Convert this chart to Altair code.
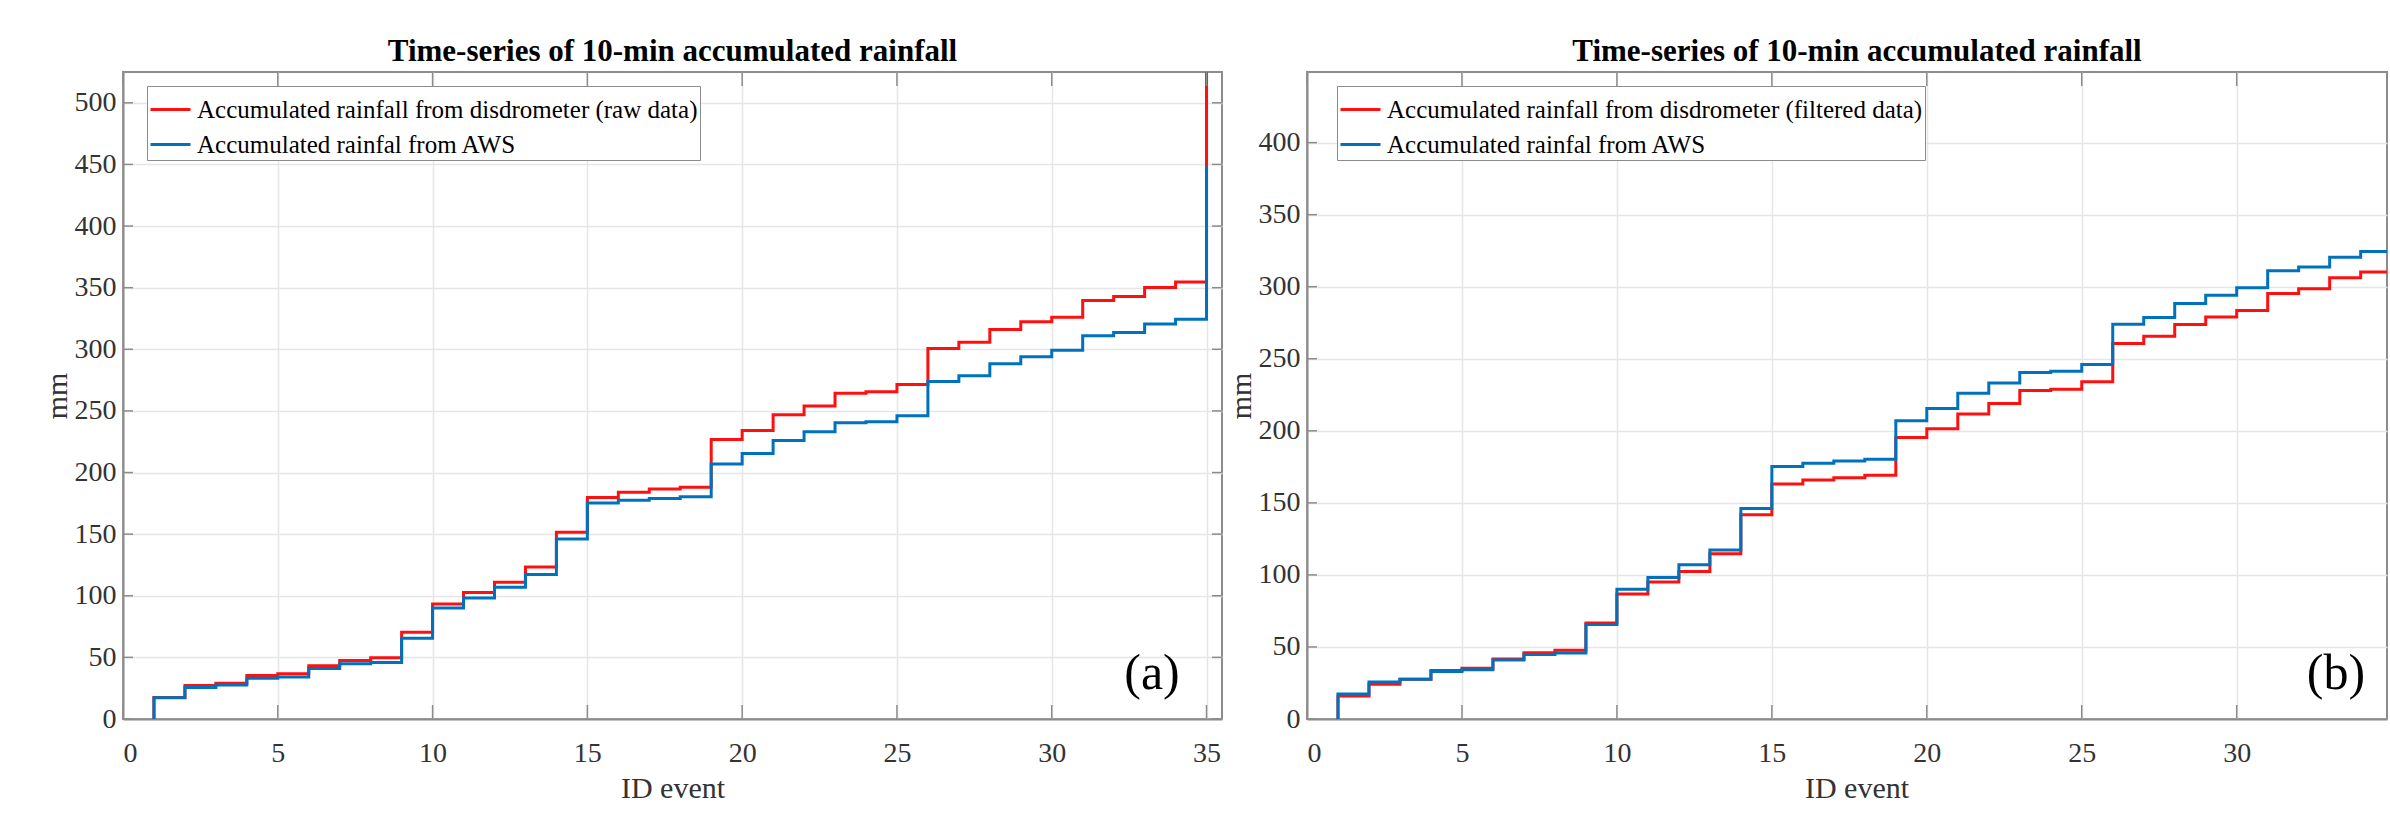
import altair as alt
import pandas as pd

# ---------------- data ----------------
events = list(range(1, 36))

raw_disdrometer = [17.5, 27.1, 29.0, 35.2, 36.8, 43.3, 47.4, 49.8, 70.4, 93.4,
                   102.6, 111.0, 123.4, 151.5, 179.7, 184.0, 186.7, 188.0, 226.8, 234.1,
                   246.8, 254.0, 264.4, 265.5, 271.4, 300.6, 305.8, 316.0, 322.3, 326.0,
                   339.6, 342.8, 350.1, 354.5, 560.0]

filtered_disdrometer = [16.0, 24.1, 27.6, 33.6, 35.2, 41.7, 45.9, 47.7, 66.7, 86.7,
                        95.0, 102.4, 114.7, 141.8, 163.1, 165.9, 167.5, 169.1, 195.3, 201.5,
                        211.7, 218.9, 227.9, 228.9, 234.0, 260.6, 265.7, 273.8, 279.0, 283.5,
                        295.3, 298.6, 306.2, 310.2, 420.0]

aws = [17.3, 25.6, 27.6, 33.0, 34.1, 40.9, 44.8, 45.8, 65.5, 90.0,
       98.2, 107.0, 117.3, 146.0, 175.3, 177.5, 179.0, 180.3, 207.0, 215.4,
       226.0, 233.1, 240.4, 241.3, 246.0, 273.9, 278.6, 288.3, 294.0, 299.2,
       311.0, 313.6, 320.5, 324.4, 448.6]

x_ticks_a = [0, 5, 10, 15, 20, 25, 30, 35]
x_ticks_b = [0, 5, 10, 15, 20, 25, 30]          # panel (b) is cut at the right edge
y_ticks_a = [0, 50, 100, 150, 200, 250, 300, 350, 400, 450, 500]
y_ticks_b = [0, 50, 100, 150, 200, 250, 300, 350, 400]

label_raw = "Accumulated rainfall from disdrometer (raw data)"
label_filt = "Accumulated rainfall from disdrometer (filtered data)"
label_aws = "Accumulated rainfal from AWS"
title_text = "Time-series of 10-min accumulated rainfall"

RED = "#ff1010"
BLUE = "#0072BD"
FRAME = "#8c8c8c"
FONT = "Liberation Serif"

H = 647


def stairs_frame(dis_values, dis_label):
    rows = []
    for label, vals in [(dis_label, dis_values), (label_aws, aws)]:
        rows.append({"series": label, "event": events[0], "mm": 0.0, "idx": 0})
        for i, (e, v) in enumerate(zip(events, vals)):
            rows.append({"series": label, "event": e, "mm": v, "idx": i + 1})
    return pd.DataFrame(rows)


def panel(dis_values, dis_label, y_max, y_ticks, x_ticks, x_max, width, tag,
          legend_x, legend_y, right_ticks, title_dx):
    df = stairs_frame(dis_values, dis_label)
    xs = alt.Scale(domain=[0, x_max], nice=False, zero=False)
    ys = alt.Scale(domain=[0, y_max], nice=False)
    x_axis = alt.Axis(values=x_ticks, title="ID event", grid=True,
                      ticks=False, labelPadding=20, titlePadding=6, format="d",
                      titleX=1099 / 2)
    y_axis = alt.Axis(values=y_ticks, title="mm", grid=True,
                      ticks=False, labelPadding=7, titlePadding=2, format="d")

    lines = alt.Chart(df).mark_line(
        interpolate="step-after", strokeWidth=3, clip=True
    ).encode(
        x=alt.X("event:Q", scale=xs, axis=x_axis),
        y=alt.Y("mm:Q", scale=ys, axis=y_axis),
        color=alt.Color("series:N",
                        scale=alt.Scale(domain=[dis_label, label_aws], range=[RED, BLUE]),
                        legend=alt.Legend(orient="none", legendX=legend_x, legendY=legend_y,
                                          title=None, direction="vertical",
                                          fillColor="white", strokeColor=FRAME,
                                          padding=2, labelFont=FONT, labelFontSize=25,
                                          labelColor="black", labelLimit=1000,
                                          symbolType="stroke", symbolStrokeWidth=3,
                                          symbolSize=1600, labelOffset=5,
                                          rowPadding=0)),
        order="idx:Q",
    )

    xt = pd.DataFrame({"event": x_ticks})
    yt = pd.DataFrame({"mm": y_ticks})
    tick_style = dict(color=FRAME, strokeWidth=1.5)
    layers = [lines]
    layers.append(alt.Chart(xt).mark_rule(**tick_style).encode(
        x=alt.X("event:Q", scale=xs, axis=x_axis), y=alt.value(H), y2=alt.value(H - 14)))
    layers.append(alt.Chart(xt).mark_rule(**tick_style).encode(
        x=alt.X("event:Q", scale=xs, axis=x_axis), y=alt.value(0), y2=alt.value(14)))
    layers.append(alt.Chart(yt).mark_rule(**tick_style).encode(
        y=alt.Y("mm:Q", scale=ys, axis=y_axis), x=alt.value(0), x2=alt.value(10)))
    if right_ticks:
        layers.append(alt.Chart(yt).mark_rule(**tick_style).encode(
            y=alt.Y("mm:Q", scale=ys, axis=y_axis), x=alt.value(width - 10),
            x2=alt.value(width)))

    layers.append(alt.Chart(pd.DataFrame({"tag": [tag]})).mark_text(
        font=FONT, fontSize=50, color="black", align="center", baseline="middle"
    ).encode(text="tag:N", x=alt.value(1029), y=alt.value(602)))

    return alt.layer(*layers).properties(
        width=width, height=H,
        title=alt.Title(title_text, font=FONT, fontSize=31, fontWeight="bold",
                        color="black", anchor="middle", offset=3, dx=title_dx),
    )


left = panel(raw_disdrometer, label_raw, 525, y_ticks_a, x_ticks_a, 35.5, 1099,
             "(a)", 24, 14, True, 0)
right = panel(filtered_disdrometer, label_filt, 449, y_ticks_b, x_ticks_b, 34.85, 1080,
              "(b)", 30, 14, False, 10)

chart = alt.hconcat(left, right, spacing=85, bounds="flush").resolve_scale(
    color="independent"
).resolve_legend(
    color="independent"
).properties(
    padding={"left": 41, "top": 35, "right": 0, "bottom": 4},
    background="white",
).configure_view(
    stroke=FRAME, strokeWidth=2
).configure_axis(
    labelFont=FONT, labelFontSize=28, labelColor="#333333",
    titleFont=FONT, titleFontSize=30, titleFontWeight="normal", titleColor="#333333",
    gridColor="#e6e6e6", gridWidth=1.5, domainColor=FRAME, domainWidth=2,
)

chart.save("out.html", embed_options={"renderer": "svg", "actions": False})
